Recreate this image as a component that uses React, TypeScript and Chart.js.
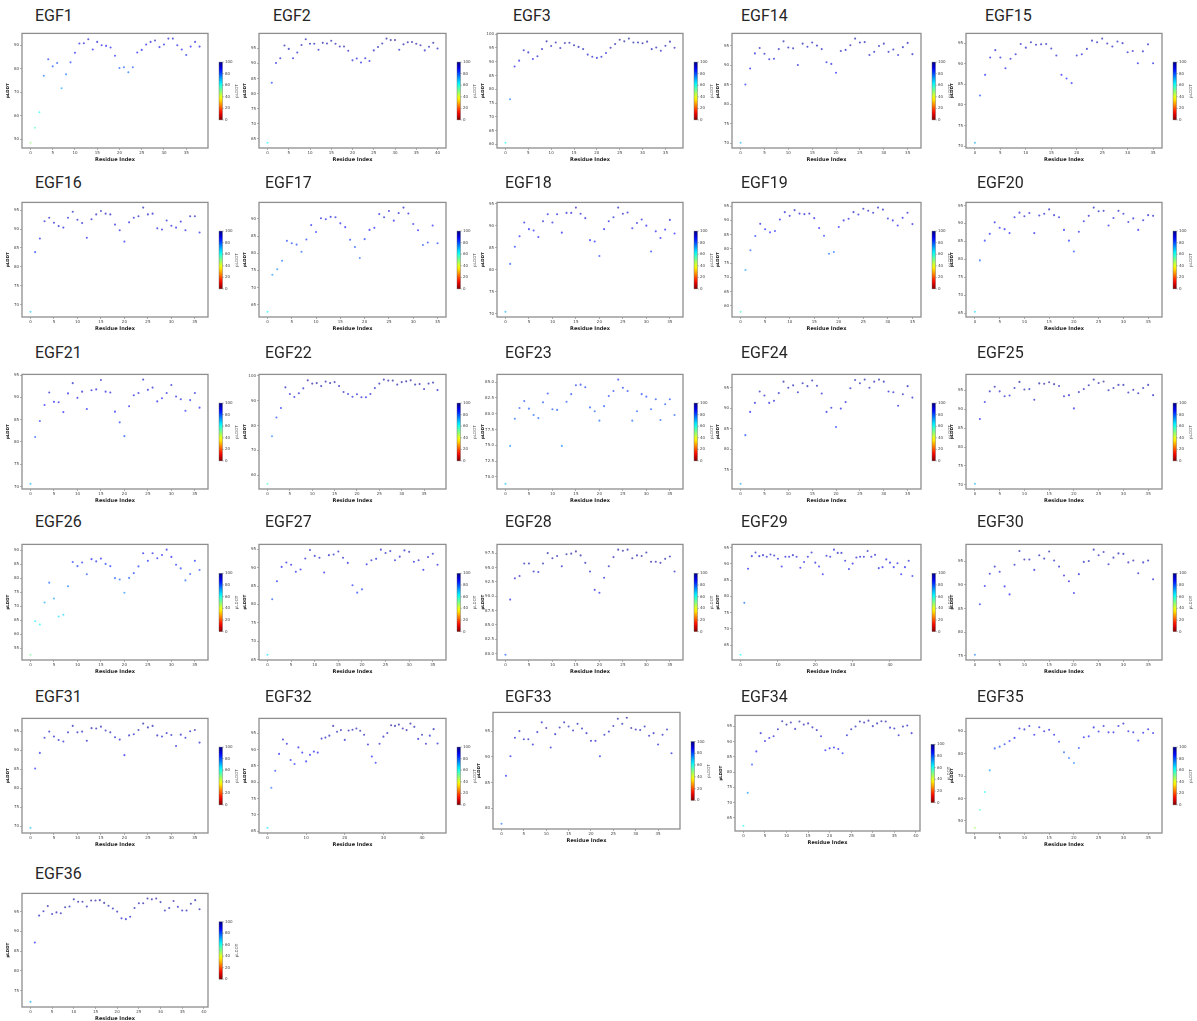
import React, { useEffect, useRef } from "react";
import { Chart, registerables } from "chart.js";

Chart.register(...registerables);

// ---------------- DATA ----------------
const PANEL_TITLES = [
  "EGF1", "EGF2", "EGF3", "EGF14", "EGF15",
  "EGF16", "EGF17", "EGF18", "EGF19", "EGF20",
  "EGF21", "EGF22", "EGF23", "EGF24", "EGF25",
  "EGF26", "EGF27", "EGF28", "EGF29", "EGF30",
  "EGF31", "EGF32", "EGF33", "EGF34", "EGF35",
  "EGF36",
];

const EGF1 = [48.5, 54.9, 61.5, 77.0, 84.0, 81.0, 82.4, 71.7, 77.6, 82.7, 86.8, 90.7, 90.8, 92.5, 88.2, 91.4, 90.0, 89.7, 89.0, 85.5, 80.3, 80.6, 78.5, 80.6, 86.9, 88.0, 90.3, 91.4, 92.0, 89.2, 90.3, 92.8, 92.8, 90.0, 88.2, 85.8, 89.4, 91.4, 89.4];
const EGF2 = [63.7, 83.6, 90.1, 91.7, 95.9, 94.8, 91.7, 93.6, 96.1, 98.0, 96.5, 96.5, 94.5, 96.8, 96.6, 97.5, 96.5, 95.6, 95.6, 94.2, 91.0, 91.6, 90.3, 91.7, 90.8, 94.3, 95.4, 96.6, 98.2, 97.7, 97.7, 94.5, 96.3, 97.0, 97.1, 96.5, 96.0, 94.3, 95.5, 96.8, 94.9];
const EGF3 = [60.6, 76.4, 88.3, 90.4, 94.2, 93.4, 91.0, 92.0, 94.6, 97.4, 95.7, 97.0, 95.0, 96.8, 96.9, 96.0, 95.4, 94.6, 92.6, 91.8, 91.4, 91.8, 93.2, 95.1, 96.4, 98.0, 97.4, 98.4, 97.0, 97.0, 96.7, 97.3, 94.6, 95.2, 94.0, 95.8, 97.3, 95.1];
const EGF14 = [70.1, 85.1, 89.2, 93.1, 94.5, 93.0, 91.6, 91.7, 94.2, 96.2, 94.6, 94.4, 90.1, 95.6, 94.8, 95.9, 95.1, 94.2, 90.8, 90.4, 88.1, 93.7, 94.0, 95.2, 96.9, 95.9, 96.0, 92.7, 93.5, 95.0, 95.6, 93.5, 94.1, 92.7, 94.7, 95.8, 92.9];
const EGF15 = [70.8, 82.3, 87.3, 91.5, 93.3, 91.5, 88.9, 91.2, 92.3, 94.8, 93.9, 95.2, 94.6, 94.7, 94.8, 93.7, 92.0, 87.3, 86.4, 85.3, 92.0, 92.3, 93.6, 95.6, 95.2, 96.1, 94.9, 94.2, 95.4, 95.0, 92.8, 93.1, 90.1, 93.0, 94.7, 90.1];
const EGF16 = [68.1, 83.9, 87.5, 92.1, 93.0, 91.7, 90.8, 90.4, 93.0, 94.6, 92.5, 91.6, 87.7, 92.6, 93.9, 94.8, 94.1, 93.9, 91.2, 89.7, 86.7, 91.8, 93.0, 93.4, 95.7, 93.9, 94.1, 90.2, 89.9, 92.3, 90.9, 90.4, 92.0, 89.7, 93.4, 93.4, 89.1];
const EGF17 = [62.9, 73.7, 75.3, 77.8, 83.6, 82.9, 82.5, 80.4, 84.0, 88.2, 86.2, 90.2, 89.9, 90.6, 90.5, 88.7, 87.6, 83.9, 81.8, 78.6, 84.1, 86.8, 87.4, 91.4, 90.5, 92.3, 89.5, 91.7, 93.3, 91.6, 88.5, 86.7, 82.4, 83.1, 88.1, 82.9];
const EGF18 = [70.4, 81.3, 85.2, 87.6, 90.7, 89.2, 88.9, 87.4, 91.0, 92.6, 90.7, 92.6, 88.4, 92.9, 92.9, 94.1, 92.7, 91.7, 86.7, 86.4, 83.1, 89.2, 91.0, 91.9, 94.1, 92.7, 93.0, 89.4, 90.6, 91.4, 90.0, 84.1, 88.7, 87.2, 89.1, 91.3, 88.2];
const EGF19 = [57.9, 72.6, 79.5, 84.5, 88.8, 86.9, 85.8, 86.3, 90.3, 92.9, 91.6, 93.6, 92.4, 92.2, 92.4, 90.8, 87.3, 84.6, 78.3, 78.9, 87.7, 90.0, 90.6, 92.9, 92.1, 94.1, 93.4, 92.7, 94.5, 93.8, 90.7, 90.0, 88.2, 90.9, 92.7, 88.7];
const EGF20 = [65.4, 79.7, 85.2, 87.1, 90.3, 88.8, 88.4, 87.3, 91.7, 93.0, 92.0, 92.9, 87.3, 92.2, 92.7, 93.9, 92.3, 91.7, 88.2, 85.2, 82.2, 87.7, 90.6, 92.1, 94.4, 93.4, 93.5, 89.4, 91.5, 93.5, 92.7, 90.4, 91.4, 88.2, 90.9, 92.3, 92.1];
const EGF21 = [70.6, 81.1, 84.7, 88.3, 91.1, 89.0, 88.9, 86.7, 90.9, 93.2, 89.9, 91.3, 87.4, 91.6, 91.8, 93.9, 91.3, 91.1, 86.8, 84.4, 81.3, 88.0, 90.5, 91.0, 94.0, 91.7, 92.2, 89.1, 89.8, 91.0, 92.8, 90.2, 89.6, 87.0, 89.4, 91.0, 87.7];
const EGF22 = [56.6, 75.7, 83.2, 87.0, 95.3, 92.6, 91.4, 92.9, 94.9, 98.1, 96.8, 97.0, 95.8, 97.6, 97.0, 97.4, 95.8, 93.4, 92.6, 91.5, 92.5, 91.3, 91.3, 92.6, 95.0, 96.8, 98.4, 98.0, 98.0, 96.4, 97.4, 97.7, 98.1, 96.4, 96.6, 94.6, 96.8, 97.2, 94.2];
const EGF23 = [68.9, 74.9, 79.2, 80.9, 82.0, 80.8, 79.8, 79.3, 81.8, 83.2, 80.7, 80.6, 74.9, 81.9, 83.1, 84.5, 84.6, 84.2, 81.0, 80.4, 78.9, 81.2, 82.8, 83.6, 85.4, 84.1, 83.6, 78.9, 80.4, 83.1, 82.7, 80.7, 82.3, 79.0, 81.5, 82.3, 79.8];
const EGF24 = [71.5, 83.4, 89.1, 91.3, 94.1, 93.1, 91.3, 91.8, 93.7, 96.5, 95.0, 95.6, 93.9, 96.1, 95.4, 96.8, 95.5, 93.6, 89.1, 90.1, 85.4, 89.9, 91.5, 94.9, 96.9, 96.1, 97.0, 95.0, 96.5, 97.0, 96.5, 94.1, 93.9, 90.6, 93.4, 95.4, 92.6];
const EGF25 = [70.3, 87.4, 91.9, 94.7, 95.9, 94.7, 93.4, 93.6, 95.6, 97.2, 95.2, 95.3, 92.5, 96.8, 96.7, 97.1, 96.6, 96.1, 93.4, 93.7, 90.2, 94.5, 95.3, 96.3, 97.8, 96.9, 97.3, 95.0, 95.6, 96.4, 96.4, 94.4, 95.1, 94.2, 95.6, 96.4, 93.7];
const EGF26 = [52.6, 64.6, 63.4, 71.3, 78.4, 72.7, 66.3, 66.9, 77.1, 85.8, 84.3, 85.6, 81.4, 86.8, 86.0, 87.0, 85.1, 84.3, 80.0, 79.5, 74.8, 80.1, 81.8, 84.2, 88.9, 86.2, 88.9, 87.1, 88.3, 90.2, 87.6, 84.8, 83.5, 79.2, 81.5, 86.2, 82.9];
const EGF27 = [66.3, 81.4, 86.3, 90.2, 91.4, 90.8, 88.9, 89.5, 92.5, 94.8, 93.2, 92.7, 88.7, 93.4, 93.6, 94.4, 92.7, 91.3, 85.2, 83.2, 84.1, 90.9, 92.0, 92.4, 94.9, 94.0, 94.5, 92.0, 93.0, 94.7, 94.3, 91.6, 92.0, 89.4, 92.9, 93.8, 90.8];
const EGF28 = [79.8, 89.4, 93.1, 93.5, 95.7, 95.7, 94.3, 94.2, 95.7, 97.5, 96.6, 97.0, 95.2, 97.3, 97.4, 97.8, 97.1, 95.8, 94.3, 91.1, 90.6, 93.2, 95.2, 96.8, 98.1, 97.9, 98.1, 96.6, 97.1, 97.0, 97.6, 96.0, 96.0, 95.8, 96.5, 96.9, 94.3];
const EGF29 = [62.0, 78.0, 88.5, 92.4, 93.5, 92.4, 92.7, 92.2, 92.9, 92.6, 91.6, 89.2, 92.2, 92.2, 92.7, 92.2, 88.8, 90.6, 92.2, 93.5, 90.4, 89.2, 86.8, 92.5, 92.2, 94.4, 93.4, 93.4, 91.0, 88.4, 90.1, 92.0, 92.2, 92.2, 94.0, 92.2, 92.8, 88.7, 89.0, 91.4, 90.4, 89.0, 90.2, 86.8, 89.0, 91.0, 86.3];
const EGF30 = [75.2, 85.9, 89.8, 92.4, 93.9, 92.8, 89.7, 88.0, 94.3, 97.2, 95.4, 95.4, 93.2, 96.3, 95.6, 97.1, 95.2, 93.9, 92.0, 90.8, 88.3, 92.3, 94.9, 95.1, 97.5, 96.3, 97.0, 94.4, 95.8, 96.7, 96.6, 94.8, 95.2, 92.5, 94.8, 95.2, 91.2];
const EGF31 = [69.6, 85.2, 89.3, 93.3, 94.9, 93.6, 92.7, 92.3, 94.7, 96.4, 94.7, 94.9, 92.5, 95.8, 95.7, 96.2, 95.2, 94.7, 93.4, 92.8, 88.7, 93.9, 94.2, 95.3, 97.0, 96.0, 96.4, 93.9, 93.6, 94.5, 94.0, 91.1, 94.1, 93.3, 95.0, 95.3, 92.0];
const EGF32 = [66.0, 78.3, 83.5, 88.7, 93.1, 91.8, 86.8, 85.6, 90.7, 89.1, 86.4, 88.4, 89.4, 89.1, 93.4, 93.7, 94.3, 97.3, 95.5, 96.0, 93.0, 95.9, 96.1, 96.5, 95.8, 94.6, 91.6, 87.9, 86.0, 91.8, 94.0, 95.1, 97.5, 97.3, 97.7, 96.5, 96.0, 98.0, 97.0, 93.3, 94.6, 91.8, 94.3, 96.3, 91.9];
const EGF33 = [77.0, 86.3, 90.1, 93.7, 95.0, 93.4, 93.4, 92.4, 94.8, 96.7, 95.6, 91.8, 94.4, 95.7, 96.7, 95.9, 95.1, 96.4, 95.5, 94.6, 93.1, 93.1, 90.1, 94.3, 94.9, 96.0, 97.4, 96.4, 97.6, 95.6, 95.3, 95.2, 95.9, 94.1, 94.6, 92.4, 94.3, 95.3, 90.7];
const EGF34 = [62.4, 73.2, 82.5, 86.8, 92.8, 90.2, 91.2, 91.8, 94.1, 96.7, 95.6, 96.3, 94.2, 96.6, 95.6, 96.0, 94.7, 93.8, 91.8, 87.2, 87.8, 88.1, 87.6, 86.2, 92.1, 94.1, 95.0, 96.6, 96.3, 96.9, 95.1, 96.0, 96.7, 96.6, 94.6, 94.3, 92.1, 95.0, 95.3, 92.8];
const EGF35 = [46.9, 55.0, 62.9, 72.6, 82.4, 83.2, 84.3, 85.7, 87.1, 91.3, 90.9, 92.4, 88.5, 91.9, 90.1, 90.7, 88.5, 85.4, 80.7, 78.1, 75.9, 82.6, 87.4, 87.8, 91.8, 90.0, 92.4, 89.6, 89.6, 92.4, 93.5, 90.1, 89.6, 85.9, 89.4, 91.0, 89.3];
const EGF36 = [72.2, 87.2, 94.0, 95.1, 96.4, 94.4, 94.8, 94.6, 96.1, 96.3, 98.1, 97.5, 97.5, 96.3, 97.8, 97.8, 97.9, 97.2, 96.5, 95.8, 95.0, 93.3, 93.1, 93.7, 95.9, 97.1, 97.1, 98.3, 98.1, 98.3, 97.4, 95.3, 95.9, 97.7, 96.2, 95.3, 95.3, 97.0, 97.9, 95.6];

const SERIES = [
  EGF1, EGF2, EGF3, EGF14, EGF15,
  EGF16, EGF17, EGF18, EGF19, EGF20,
  EGF21, EGF22, EGF23, EGF24, EGF25,
  EGF26, EGF27, EGF28, EGF29, EGF30,
  EGF31, EGF32, EGF33, EGF34, EGF35,
  EGF36,
];

const Y_TICK_STEPS = [10, 5, 5, 5, 5, 5, 5, 5, 5, 5, 5, 10, 2.5, 5, 5, 5, 5, 2.5, 5, 5, 5, 5, 5, 5, 10, 5];
const X_TICK_STEPS = [5, 5, 5, 5, 5, 5, 5, 5, 5, 5, 5, 5, 5, 5, 5, 5, 5, 5, 10, 5, 5, 10, 5, 5, 5, 5];
const COLORBAR_TICKS = [0, 20, 40, 60, 80, 100];
const X_LABEL = "Residue Index";
const Y_LABEL = "pLDDT";

// ---------------- LAYOUT ----------------
const ROW_BOX = [
  { top: 33, bottom: 148, title: 16 },
  { top: 202, bottom: 317, title: 183 },
  { top: 374, bottom: 489, title: 353 },
  { top: 544, bottom: 660, title: 522 },
  { top: 718, bottom: 833, title: 697 },
  { top: 893, bottom: 1007, title: 874 },
];
const COL_BOX = [
  { left: 22, right: 208 },
  { left: 259, right: 446 },
  { left: 497, right: 683 },
  { left: 732, right: 921 },
  { left: 966, right: 1162 },
];
const TITLE_LEFT = [
  [35, 273, 513, 741, 985],
  [35, 265, 505, 741, 977],
  [35, 265, 505, 741, 977],
  [35, 265, 505, 741, 977],
  [35, 265, 505, 741, 977],
  [35],
];
const BOX_OVERRIDES: Record<number, any> = {
  22: { top: 712, bottom: 829, left: 493, right: 680 },
  23: { top: 715, bottom: 831, left: 735, right: 920 },
};

const Y_AXIS_W = 16;
const X_AXIS_H = 15;
const PAD_LEFT = 4;
const PAD_TOP = 3;
const PAD_RIGHT = 52;
const FONT = '"DejaVu Sans", sans-serif';

function jet(v: number, a: number) {
  const t = 1 - Math.max(0, Math.min(100, v)) / 100;
  const c = (x: number) => Math.round(255 * Math.max(0, Math.min(1, x)));
  return `rgba(${c(1.5 - Math.abs(4 * t - 3))},${c(1.5 - Math.abs(4 * t - 2))},${c(1.5 - Math.abs(4 * t - 1))},${a})`;
}

function makeTicks(min: number, max: number, step: number) {
  const out: { value: number }[] = [];
  for (let k = Math.ceil(min / step - 1e-9); k * step <= max + 1e-9; k++) {
    out.push({ value: +(k * step).toFixed(4) });
  }
  return out;
}

function fmt(v: number, step: number) {
  return step % 1 !== 0 ? Number(v).toFixed(1) : String(Math.round(Number(v)));
}

const frameAndColorbar = {
  id: "frameAndColorbar",
  afterDraw(chart: any) {
    const { ctx, chartArea: a } = chart;
    ctx.save();
    ctx.strokeStyle = "#8e8e8e";
    ctx.lineWidth = 1.3;
    ctx.strokeRect(a.left, a.top, a.right - a.left, a.bottom - a.top);

    const h = a.bottom - a.top;
    const x0 = a.right + 11;
    const w = 3.5;
    const y0 = a.top + 0.25 * h;
    const y1 = a.top + 0.755 * h;
    const g = ctx.createLinearGradient(0, y0, 0, y1);
    for (let i = 0; i <= 20; i++) g.addColorStop(i / 20, jet(100 - i * 5, 1));
    ctx.fillStyle = g;
    ctx.fillRect(x0, y0, w, y1 - y0);
    ctx.strokeStyle = "#666";
    ctx.lineWidth = 0.4;
    ctx.strokeRect(x0, y0, w, y1 - y0);

    ctx.fillStyle = "#444";
    ctx.font = `4px ${FONT}`;
    ctx.textBaseline = "middle";
    ctx.textAlign = "left";
    for (const t of COLORBAR_TICKS) {
      const y = y1 - (t / 100) * (y1 - y0);
      ctx.beginPath();
      ctx.moveTo(x0 + w, y);
      ctx.lineTo(x0 + w + 1.5, y);
      ctx.stroke();
      ctx.fillText(String(t), x0 + w + 2.5, y);
    }
    ctx.translate(x0 + w + 14, (y0 + y1) / 2);
    ctx.rotate(-Math.PI / 2);
    ctx.textAlign = "center";
    ctx.font = `4px ${FONT}`;
    ctx.fillText(Y_LABEL, 0, 0);
    ctx.restore();
  },
};

function Panel({ index }: { index: number }) {
  const ref = useRef<HTMLCanvasElement | null>(null);
  const row = Math.floor(index / 5);
  const col = index % 5;
  const box = {
    top: ROW_BOX[row].top,
    bottom: ROW_BOX[row].bottom,
    left: COL_BOX[col].left,
    right: COL_BOX[col].right,
    ...(BOX_OVERRIDES[index] || {}),
  };
  const cLeft = box.left - PAD_LEFT - Y_AXIS_W;
  const cTop = box.top - PAD_TOP;
  const cW = box.right - box.left + PAD_LEFT + Y_AXIS_W + PAD_RIGHT;
  const cH = box.bottom - box.top + PAD_TOP + X_AXIS_H;

  useEffect(() => {
    const values = SERIES[index];
    const n = values.length;
    const lo = Math.min(...values);
    const hi = Math.max(...values);
    const yPad = (hi - lo) * 0.05;
    const xPad = (n - 1) * 0.05;
    const yStep = Y_TICK_STEPS[index];
    const xStep = X_TICK_STEPS[index];
    const tickFont = { size: 4, family: FONT };

    const chart = new Chart(ref.current as HTMLCanvasElement, {
      type: "scatter",
      data: {
        datasets: [
          {
            data: values.map((v, i) => ({ x: i, y: v })),
            pointRadius: 1.05,
            pointHoverRadius: 1.05,
            borderWidth: 0,
            backgroundColor: (c: any) => jet(c.raw ? c.raw.y : 90, 0.62),
          },
        ],
      },
      options: {
        responsive: false,
        animation: false,
        events: [],
        layout: { padding: { left: PAD_LEFT, right: PAD_RIGHT, top: PAD_TOP, bottom: 0 } },
        plugins: { legend: { display: false }, tooltip: { enabled: false } },
        scales: {
          x: {
            type: "linear",
            position: "bottom",
            min: -xPad,
            max: n - 1 + xPad,
            afterBuildTicks: (s: any) => {
              s.ticks = makeTicks(s.min, s.max, xStep);
            },
            ticks: {
              autoSkip: false,
              maxRotation: 0,
              font: tickFont,
              color: "#444",
              padding: 1,
              callback: (v: any) => fmt(v, xStep),
            },
            grid: { drawOnChartArea: false, drawTicks: true, tickLength: 2, color: "#666", lineWidth: 0.5 },
            border: { display: false },
            title: {
              display: true,
              text: X_LABEL,
              font: { size: 5, weight: "bold", family: FONT },
              color: "#222",
              padding: { top: 1, bottom: 0 },
            },
            afterFit: (s: any) => {
              s.height = X_AXIS_H;
            },
          },
          y: {
            type: "linear",
            min: lo - yPad,
            max: hi + yPad,
            afterBuildTicks: (s: any) => {
              s.ticks = makeTicks(s.min, s.max, yStep);
            },
            ticks: {
              autoSkip: false,
              font: tickFont,
              color: "#444",
              padding: 1,
              callback: (v: any) => fmt(v, yStep),
            },
            grid: { drawOnChartArea: false, drawTicks: true, tickLength: 2, color: "#666", lineWidth: 0.5 },
            border: { display: false },
            title: {
              display: true,
              text: Y_LABEL,
              font: { size: 4, weight: "bold", family: FONT },
              color: "#222",
              padding: { top: 0, bottom: 1 },
            },
            afterFit: (s: any) => {
              s.width = Y_AXIS_W;
            },
          },
        },
      } as any,
      plugins: [frameAndColorbar],
    });
    return () => chart.destroy();
  }, [index]);

  const titleLeft = TITLE_LEFT[row][col];
  const titleCenter = ROW_BOX[row].title;

  return (
    <>
      <div
        style={{
          position: "absolute",
          left: titleLeft,
          top: titleCenter - 10,
          height: 20,
          lineHeight: "20px",
          fontFamily: "'Liberation Sans Narrow', Roboto, 'Open Sans', sans-serif",
          fontSize: 16,
          color: "#262626",
          whiteSpace: "nowrap",
        }}
      >
        {PANEL_TITLES[index]}
      </div>
      <canvas
        ref={ref}
        width={cW}
        height={cH}
        style={{ position: "absolute", left: cLeft, top: cTop, width: cW, height: cH }}
      />
    </>
  );
}

export default function App() {
  return (
    <div
      style={{
        position: "absolute",
        left: 0,
        top: 0,
        width: 1197,
        height: 1021,
        background: "#ffffff",
        overflow: "hidden",
      }}
    >
      {PANEL_TITLES.map((t, i) => (
        <Panel key={t} index={i} />
      ))}
    </div>
  );
}
